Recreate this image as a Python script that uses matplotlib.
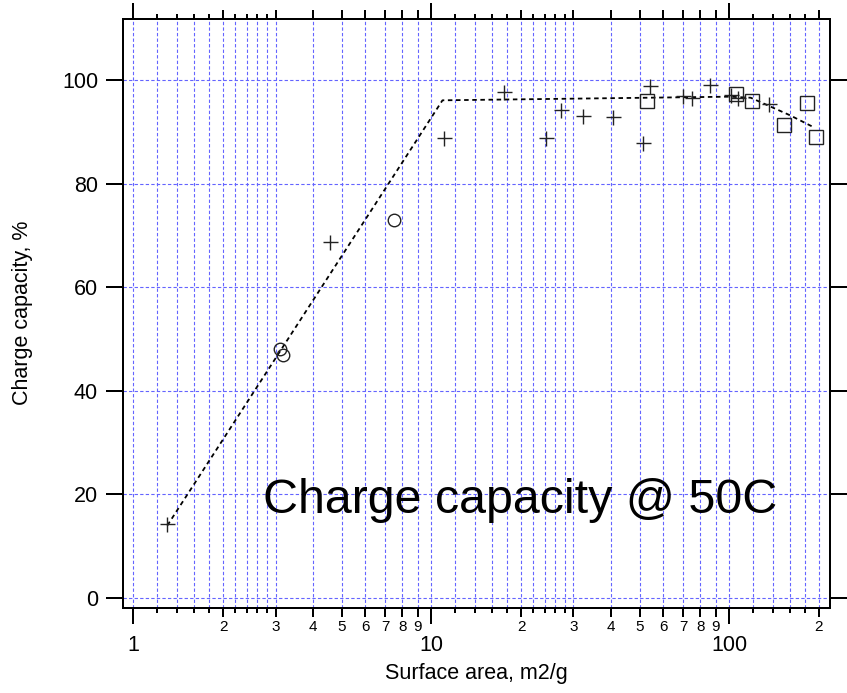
import math
import matplotlib
matplotlib.use("Agg")
import matplotlib.pyplot as plt
from matplotlib.ticker import FixedLocator, FuncFormatter, NullFormatter, NullLocator

plt.rcParams['font.family'] = ['Liberation Sans', 'DejaVu Sans']

# ---- data ----
plus_x = [1.30, 4.57, 11.0, 17.5, 24.3, 27.2, 32.4, 40.6, 51.4, 54.2, 70.1, 75.1, 86.4, 101.0, 107.0, 136.0]
plus_y = [14.2, 68.8, 88.8, 97.8, 88.9, 94.2, 93.1, 92.8, 87.9, 98.9, 96.9, 96.5, 99.0, 97.2, 96.5, 95.4]

square_x = [53.1, 105.0, 119.5, 153.0, 183.0, 196.0]
square_y = [96.0, 97.3, 96.0, 91.4, 95.5, 89.0]

circle_x = [3.11, 3.17, 7.50]
circle_y = [48.0, 47.0, 73.0]

fit_x = [1.3, 10.9, 100.0, 118.0, 160.0, 192.0]
fit_y = [14.0, 96.1, 96.8, 96.6, 93.2, 90.9]

decades = [1, 10, 100]
medium_mult = [2, 3, 4, 5, 6, 7, 8, 9]
fine_mult = [1.2, 1.4, 1.6, 1.8, 2.2, 2.4, 2.6, 2.8]
y_ticks = [0, 20, 40, 60, 80, 100]

xlim = (0.923, 217.8)
ylim = (-1.83, 111.8)

grid_color = '#6464ff'
grid_ls = (0, (3, 2))

# ---- figure ----
fig = plt.figure(figsize=(8.47, 6.93), dpi=100)
ax = fig.add_axes([123 / 847, 1 - 607.5 / 693, 707 / 847, 588.5 / 693])

# twin axis for the finest ticks / gridlines
ax_fine = ax.twiny()
ax_fine.set_xscale('log')
ax_fine.set_xlim(*xlim)
ax_fine.xaxis.set_major_locator(FixedLocator([d * m for d in decades for m in fine_mult]))
ax_fine.xaxis.set_minor_locator(NullLocator())
ax_fine.xaxis.set_major_formatter(NullFormatter())
ax_fine.tick_params(axis='x', which='major', length=3.6, width=1.44, direction='out',
                    top=True, bottom=True, labeltop=False, labelbottom=False)
ax_fine.grid(True, which='major', axis='x', color=grid_color, lw=0.8, ls=grid_ls)
for s in ax_fine.spines.values():
    s.set_visible(False)
ax_fine.set_zorder(0)
ax.set_zorder(1)
ax.patch.set_visible(False)

ax.set_xscale('log')
ax.set_xlim(*xlim)
ax.set_ylim(*ylim)

ax.xaxis.set_major_locator(FixedLocator(decades))
ax.xaxis.set_minor_locator(FixedLocator([d * m for d in decades for m in medium_mult]))
ax.xaxis.set_major_formatter(FuncFormatter(lambda v, p: f'{v:g}'))
ax.xaxis.set_minor_formatter(FuncFormatter(
    lambda v, p: f'{int(round(v / 10 ** math.floor(math.log10(v) + 1e-9)))}'))
ax.tick_params(axis='x', which='major', length=11.5, width=1.44, direction='out',
               top=True, bottom=True, labelsize=15.5, pad=8.3)
ax.tick_params(axis='x', which='minor', length=6.5, width=1.44, direction='out',
               top=True, bottom=True, labelsize=11, pad=2.5)

ax.set_yticks(y_ticks)
ax.yaxis.set_minor_locator(NullLocator())
ax.tick_params(axis='y', which='major', length=12.2, width=1.44, direction='out',
               left=True, right=True, labelsize=15.5, pad=5.8)

ax.grid(True, which='both', axis='x', color=grid_color, lw=0.8, ls=grid_ls)
ax.grid(True, which='major', axis='y', color=grid_color, lw=0.8, ls=grid_ls)

for s in ax.spines.values():
    s.set_linewidth(1.44)
    s.set_color('black')

# ---- data marks ----
ax.plot(fit_x, fit_y, color='black', lw=1.3, ls=(0, (2.5, 2)), zorder=3)
ax.plot(plus_x, plus_y, ls='none', marker='+', ms=10.8, mew=1.0, color='#222222', zorder=4)
ax.plot(square_x, square_y, ls='none', marker='s', ms=9.4, mew=1.0, mec='#222222',
        mfc='none', zorder=4)
ax.plot(circle_x, circle_y, ls='none', marker='o', ms=9.0, mew=1.0, mec='#222222',
        mfc='none', zorder=4)

ax.text((520 - 123) / 707, (607.5 - 512.6) / 588.5, 'Charge capacity @ 50C',
        transform=ax.transAxes, ha='center', va='baseline', fontsize=34.8, zorder=5)

ax.set_xlabel('Surface area, m2/g', fontsize=15.5)
ax.set_ylabel('Charge capacity, %', fontsize=15.5)
ax.xaxis.set_label_coords(0.5, (607.5 - 663) / 588.5)
ax.yaxis.set_label_coords((33 - 123) / 707, 0.5)

fig.savefig('out.png', dpi=100)
